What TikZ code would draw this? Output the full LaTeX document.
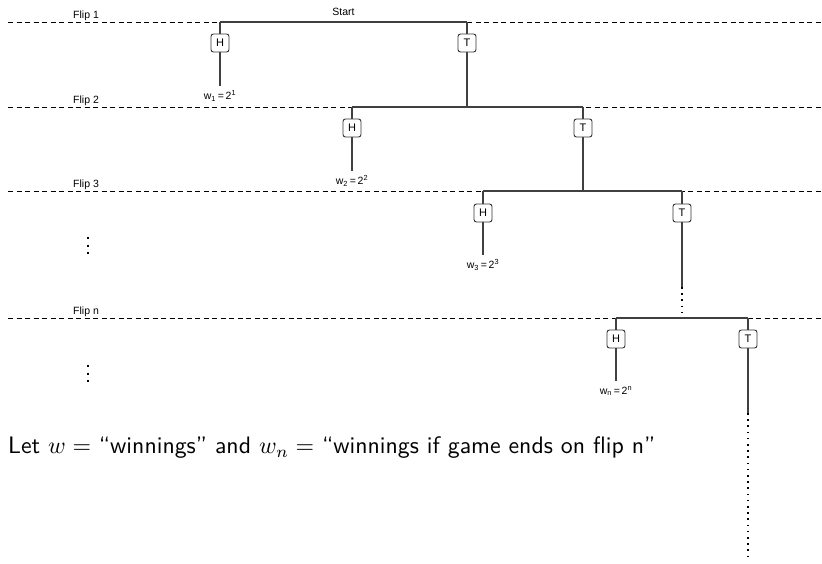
\documentclass[tikz,border=0pt]{standalone}
\usepackage{fontspec}
\usepackage{graphicx}
\setmainfont{Liberation Sans}
\newfontfamily\lmsans[Ligatures=TeX]{Latin Modern Sans}
\tikzset{
  flipline/.style={dashed, dash pattern=on 5pt off 3.5pt, line width=0.8pt},
  fliplabel/.style={anchor=base west, inner sep=0pt, font=\fontsize{10.5}{12}\selectfont},
  branch/.style={line width=1.1pt, draw=black!75},
  dotbranch/.style={line width=1.6pt, draw=black, dash pattern=on 1.6pt off 4.6pt},
  vdotline/.style={line width=2.2pt, draw=black, dash pattern=on 2.2pt off 5.3pt},
  coin/.style={draw=black!80, line width=0.9pt, rounded corners=2.5pt, minimum size=18pt, inner sep=0pt, fill=white, font=\fontsize{11}{12}\selectfont},
  wlabel/.style={inner sep=0pt, outer sep=5pt, font=\fontsize{10.5}{12}\selectfont}
}
\begin{document}
\begin{tikzpicture}[x=1pt,y=-1pt]
\useasboundingbox (0,0) rectangle (822,563);
% flip lines
\coordinate (f1a) at (8,22);  \coordinate (f1b) at (822,22);
\coordinate (f2a) at (8,107); \coordinate (f2b) at (822,107);
\coordinate (f3a) at (8,191); \coordinate (f3b) at (822,191);
\coordinate (fna) at (8,318); \coordinate (fnb) at (822,318);
\draw[flipline] (f1a) -- (f1b);
\draw[flipline] (f2a) -- (f2b);
\draw[flipline] (f3a) -- (f3b);
\draw[flipline] (fna) -- (fnb);
\node[fliplabel] (lf1) at (73,18) {Flip 1};
\node[fliplabel] (lf2) at (73,103) {Flip 2};
\node[fliplabel] (lf3) at (73,187) {Flip 3};
\node[fliplabel] (lfn) at (73,314) {Flip n};
\coordinate (vd1a) at (88,237); \coordinate (vd1b) at (88,256);
\coordinate (vd2a) at (88,365); \coordinate (vd2b) at (88,384);
\draw[vdotline] (vd1a) -- (vd1b);
\draw[vdotline] (vd2a) -- (vd2b);
% level 1
\coordinate (a1) at (220,22); \coordinate (b1) at (467,22);
\node[fliplabel, anchor=base] (start) at (343.5,15) {Start};
\node[coin] (H1) at (220,43) {H};
\node[coin] (T1) at (467,43) {T};
\node[wlabel] (w1) at (220,96) {w\textsubscript{1}\,=\,2\textsuperscript{1}};
\draw[branch] (a1) -- (b1);
\draw[branch] (a1) -- (H1) -- (w1);
\draw[branch] (b1) -- (T1);
% level 2
\coordinate (c2) at (467,107);
\coordinate (a2) at (352,107); \coordinate (b2) at (583,107);
\draw[branch] (T1) -- (c2);
\draw[branch] (a2) -- (b2);
\node[coin] (H2) at (352,128) {H};
\node[coin] (T2) at (583,128) {T};
\node[wlabel] (w2) at (352,181) {w\textsubscript{2}\,=\,2\textsuperscript{2}};
\draw[branch] (a2) -- (H2) -- (w2);
\draw[branch] (b2) -- (T2);
% level 3
\coordinate (c3) at (583,191);
\coordinate (a3) at (483,191); \coordinate (b3) at (682,191);
\draw[branch] (T2) -- (c3);
\draw[branch] (a3) -- (b3);
\node[coin] (H3) at (483,213) {H};
\node[coin] (T3) at (682,213) {T};
\node[wlabel] (w3) at (483,265) {w\textsubscript{3}\,=\,2\textsuperscript{3}};
\draw[branch] (a3) -- (H3) -- (w3);
\draw[branch] (b3) -- (T3);
\coordinate (d3) at (682,287);
\coordinate (cn) at (682,318);
\draw[branch] (T3) -- (d3);
\draw[dotbranch] (d3) -- (cn);
% level n
\coordinate (an) at (616,318); \coordinate (bn) at (748,318);
\draw[branch] (an) -- (bn);
\node[coin] (Hn) at (616,339) {H};
\node[coin] (Tn) at (748,339) {T};
\node[wlabel] (wn) at (616,391) {w\textsubscript{n}\,=\,2\textsuperscript{n}};
\draw[branch] (an) -- (Hn) -- (wn);
\draw[branch] (bn) -- (Tn);
\coordinate (dn) at (748,413);
\coordinate (en) at (748,557);
\draw[branch] (Tn) -- (dn);
\draw[dotbranch] (dn) -- (en);
% text
\node[anchor=west, inner sep=0pt] (txt) at (8,448) {\resizebox{647pt}{!}{\lmsans Let $w =$ ``winnings'' and $w_n =$ ``winnings if game ends on flip n''}};
\end{tikzpicture}
\end{document}
